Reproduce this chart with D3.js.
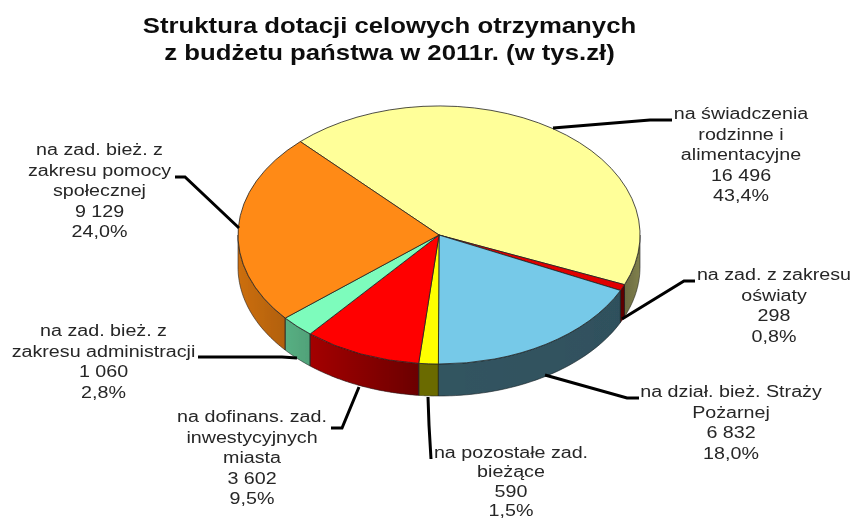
<!DOCTYPE html>
<html><head><meta charset="utf-8">
<script src="https://cdn.jsdelivr.net/npm/d3@7"></script>
<style>html,body{margin:0;background:#fff}svg{display:block}text{font-family:"Liberation Sans",Arial,sans-serif}</style>
</head><body><svg id="c" width="853" height="521"></svg>
<script>
const categories=["na świadczenia rodzinne i alimentacyjne","na zad. z zakresu oświaty","na dział. bież. Straży Pożarnej","na pozostałe zad. bieżące","na dofinans. zad. inwestycyjnych miasta","na zad. bież. z zakresu administracji","na zad. bież. z zakresu pomocy społecznej"];
const values=[16496,298,6832,590,3602,1060,9129];
const valueLabels=["16 496","298","6 832","590","3 602","1 060","9 129"];
const percentLabels=["43,4%","0,8%","18,0%","1,5%","9,5%","2,8%","24,0%"];
const colors=["#ffff99","#e00000","#76c9e8","#ffff00","#ff0000","#7dfcbc","#ff8a14"];
const labelLines=[["na świadczenia","rodzinne i","alimentacyjne"],["na zad. z zakresu","oświaty"],["na dział. bież. Straży","Pożarnej"],["na pozostałe zad.","bieżące"],["na dofinans. zad.","inwestycyjnych","miasta"],["na zad. bież. z","zakresu administracji"],["na zad. bież. z","zakresu pomocy","społecznej"]];
const titleLines=["Struktura dotacji celowych otrzymanych","z budżetu państwa w 2011r. (w tys.zł)"];

// layout
const cx=439,cy=235,rx=201,ry=129,depth=32,startDeg=-43.6;
const labelPos=[[741,119],[774,280],[731,397],[511,458],[252,422],[103.5,336],[99.5,155]];
const labelLeading=[20.6,20.6,20.6,19.4,20.6,20.6,20.6];
const leaderStart=[[553,128],[622,319],[545,375],[428,397],[359,387],[297,358],[239,228]];
const elbows=[[[650,120],[672,120]],[[684,281],[695,281]],[[627,398],[639,398]],[[429,425],[431,459]],[[342,428],[331,428]],[[282,357],[198,357]],[[185,177],[175,177]]];

const svg=d3.select("#c");
const defs=svg.append("defs");
const shade=defs.append("linearGradient").attr("id","shade").attr("gradientUnits","userSpaceOnUse")
 .attr("x1",cx-rx).attr("x2",cx+rx).attr("y1",0).attr("y2",0);
[[0,.2],[.18,.36],[.45,.58],[.95,.6],[1,.5]].forEach(s=>shade.append("stop").attr("offset",s[0]).attr("stop-color","#000").attr("stop-opacity",s[1]));
const blur=defs.append("filter").attr("id","soft").attr("x","-5%").attr("y","-5%").attr("width","110%").attr("height","110%");
blur.append("feGaussianBlur").attr("stdDeviation",.5);

const pie=d3.pie().sort(null).startAngle(startDeg*Math.PI/180).endAngle((startDeg+360)*Math.PI/180);
const arcs=pie(values);
const px=a=>cx+rx*Math.sin(a), py=a=>cy-ry*Math.cos(a);
const rimLine=d3.line();

function rimPath(a0,a1){
  const pts=d3.range(0,41).map(i=>{const a=a0+(a1-a0)*i/40;return [px(a),py(a)];});
  const low=pts.slice().reverse().map(p=>[p[0],p[1]+depth]);
  return rimLine(pts.concat(low))+"Z";
}
const g=svg.append("g").attr("filter","url(#soft)");
const vis=[];
arcs.forEach((d,i)=>{
  const lo=Math.max(d.startAngle,Math.PI/2),hi=Math.min(d.endAngle,3*Math.PI/2);
  if(hi>lo) vis.push({i,lo,hi});
});
g.selectAll("path.rim").data(vis).join("path").attr("class","rim")
 .attr("d",d=>rimPath(d.lo,d.hi)).attr("fill",d=>colors[d.i]).attr("stroke","none");
g.selectAll("path.rs").data(vis).join("path").attr("class","rs")
 .attr("d",d=>rimPath(d.lo,d.hi)).attr("fill","url(#shade)").attr("stroke","#222").attr("stroke-width",.6);
const arc=d3.arc().innerRadius(0).outerRadius(1);
g.selectAll("path.top").data(arcs).join("path").attr("class","top")
 .attr("transform",`translate(${cx},${cy}) scale(${rx},${ry})`)
 .attr("d",arc).attr("fill",(d,i)=>colors[i]).attr("stroke","#222").attr("stroke-width",.8).attr("vector-effect","non-scaling-stroke");

const lg=svg.append("g").attr("filter","url(#soft)");
lg.selectAll("path").data(elbows).join("path")
 .attr("d",(e,i)=>d3.line()([leaderStart[i],...e])).attr("fill","none").attr("stroke","#000").attr("stroke-width",3);

const t=svg.append("g").attr("filter","url(#soft)").attr("font-size",16).attr("fill","#262626").attr("text-anchor","middle");
labelLines.forEach((ls,i)=>{
  ls.concat([valueLabels[i],percentLabels[i]]).forEach((s,j)=>
    t.append("text").attr("transform",`translate(${labelPos[i][0]},${labelPos[i][1]+j*labelLeading[i]}) scale(1.23,1)`).text(s));
});
const tt=svg.append("g").attr("filter","url(#soft)").attr("font-size",22).attr("font-weight","bold").attr("fill","#111").attr("text-anchor","middle");
titleLines.forEach((s,j)=>tt.append("text").attr("transform",`translate(389.5,${33+j*27}) scale(1.17,1)`).text(s));
</script></body></html>
